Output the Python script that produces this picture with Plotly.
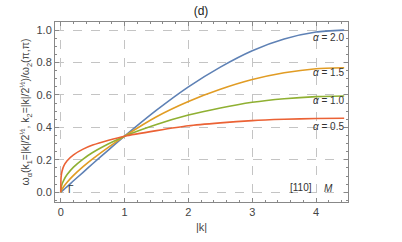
import plotly.graph_objects as go

k_vals = [0, 0.005, 0.02, 0.05, 0.1, 0.2, 0.35, 0.5, 0.75, 1.0, 1.5, 2.0, 2.5, 3.0, 3.5, 4.0, 4.44]

omega_a20 = [0, 0.0017, 0.007, 0.018, 0.035, 0.071, 0.123, 0.176, 0.262, 0.346, 0.506, 0.650, 0.772, 0.873, 0.945, 0.988, 1.0]
omega_a15 = [0, 0.0065, 0.018, 0.037, 0.062, 0.104, 0.158, 0.206, 0.279, 0.346, 0.466, 0.560, 0.635, 0.695, 0.737, 0.762, 0.768]
omega_a10 = [0, 0.0245, 0.049, 0.077, 0.109, 0.155, 0.205, 0.245, 0.299, 0.346, 0.418, 0.476, 0.520, 0.555, 0.577, 0.590, 0.594]
omega_a05 = [0, 0.092, 0.13, 0.164, 0.195, 0.231, 0.266, 0.291, 0.321, 0.346, 0.380, 0.410, 0.428, 0.442, 0.450, 0.455, 0.456]

series_labels = ["α = 2.0", "α = 1.5", "α = 1.0", "α = 0.5"]
series_values = [omega_a20, omega_a15, omega_a10, omega_a05]
series_colors = ["#5E81B5", "#E19C24", "#8FB032", "#EB6235"]
label_y = [0.952, 0.739, 0.569, 0.408]

x_ticks = [0, 1, 2, 3, 4]
y_ticks = [0.0, 0.2, 0.4, 0.6, 0.8, 1.0]

FONT = "Liberation Sans"

fig = go.Figure()
for vals, col in zip(series_values, series_colors):
    fig.add_trace(go.Scatter(x=k_vals, y=vals, mode="lines",
                             line=dict(color=col, width=1.6, shape="spline", smoothing=0.6),
                             showlegend=False, hoverinfo="skip"))

for lab, ly in zip(series_labels, label_y):
    fig.add_annotation(x=4.2, y=ly, text="<i>α</i> = " + lab.split("= ")[1], showarrow=False,
                       font=dict(size=10, color="#333", family=FONT))

fig.add_annotation(x=0.16, y=0.02, text="Γ", showarrow=False,
                   font=dict(size=10, color="#333", family=FONT))
fig.add_annotation(x=3.76, y=0.027, text="[110]", showarrow=False,
                   font=dict(size=10, color="#333", family=FONT))
fig.add_annotation(x=4.2, y=0.022, text="<i>M</i>", showarrow=False,
                   font=dict(size=10, color="#333", family=FONT))

axis_common = dict(showline=True, linecolor="#888", linewidth=1, mirror="ticks",
                   ticks="inside", ticklen=4, tickcolor="#888",
                   showgrid=True, gridcolor="#C4C4C4", griddash="dash", gridwidth=1,
                   zeroline=False, automargin=False,
                   tickfont=dict(size=11, color="#444", family=FONT))

fig.update_xaxes(range=[-0.09, 4.5], tickvals=x_ticks, **axis_common,
                 title=dict(text="|k|", font=dict(size=11, color="#444", family=FONT), standoff=6),
                 minor=dict(dtick=0.2, ticks="inside", ticklen=2, tickcolor="#888", showgrid=False))
fig.update_yaxes(range=[-0.06, 1.05], tickvals=y_ticks, tickformat=".1f", **axis_common,
                 title=dict(text="ω<sub>α</sub>(k<sub>1</sub>=|k|/2<sup>½</sup>, k<sub>2</sub>=|k|/2<sup>½</sup>)/ω<sub>2</sub>(π,π)",
                            font=dict(size=10.5, color="#444", family=FONT), standoff=4),
                 minor=dict(dtick=0.05, ticks="inside", ticklen=2, tickcolor="#888", showgrid=False))

fig.update_layout(
    width=402, height=242,
    margin=dict(l=55, r=54, t=22, b=40, autoexpand=False),
    paper_bgcolor="white", plot_bgcolor="white",
    title=dict(text="(d)", x=0.5, xanchor="center", y=0.955, yanchor="middle",
               font=dict(size=12, color="#222", family=FONT)),
)

fig.write_html("out.html", config={"displayModeBar": False},
               post_script="document.body.style.margin='0';")
